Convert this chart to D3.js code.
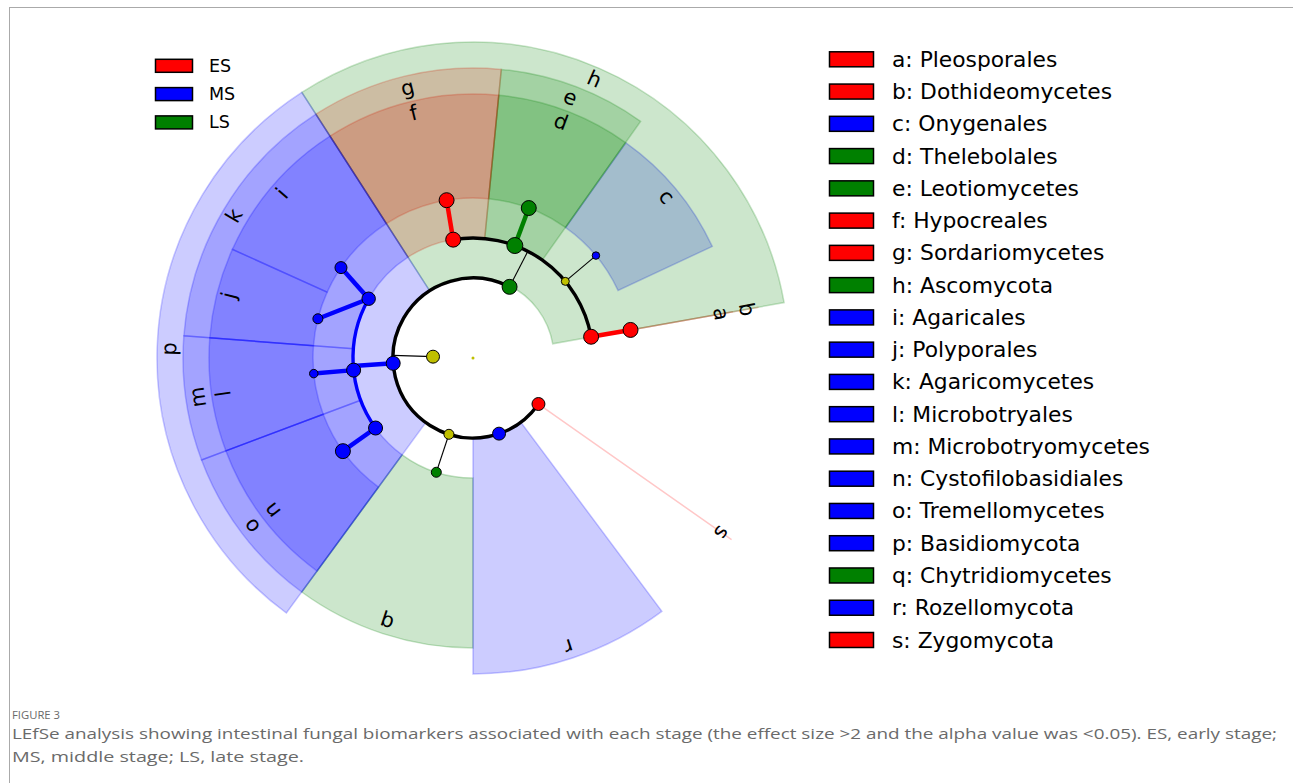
<!DOCTYPE html>
<html><head><meta charset="utf-8">
<script src="https://cdn.jsdelivr.net/npm/d3@7"></script>
<style>body{margin:0;background:#fff;} svg{display:block;}</style>
</head><body>
<svg id="chart" width="1293" height="783"></svg>
<script>
// ---------------- DATA ----------------
const stageNames = ["ES", "MS", "LS"];

// taxonomy nodes of the cladogram (level: 0 root, 1 kingdom, 2 phylum, 3 class, 4 order)
const nodeNames = ["root","Fungi","Ascomycota","Basidiomycota","Chytridiomycota","Rozellomycota","Zygomycota",
  "Sordariomycetes","Leotiomycetes","Eurotiomycetes","Dothideomycetes","Agaricomycetes","Microbotryomycetes",
  "Tremellomycetes","Chytridiomycetes","Hypocreales","Thelebolales","Onygenales","Pleosporales","Agaricales",
  "Polyporales","Microbotryales","Cystofilobasidiales"];
const nodeParents = [null,"root","Fungi","Fungi","Fungi","Fungi","Fungi",
  "Ascomycota","Ascomycota","Ascomycota","Ascomycota","Basidiomycota","Basidiomycota",
  "Basidiomycota","Chytridiomycota","Sordariomycetes","Leotiomycetes","Eurotiomycetes","Dothideomycetes","Agaricomycetes",
  "Agaricomycetes","Microbotryomycetes","Tremellomycetes"];
const nodeLevels = [0,1,2,2,2,2,2,3,3,3,3,3,3,3,3,4,4,4,4,4,4,4,4];
// angular position of each node (degrees, counter-clockwise from 3 o'clock)
const nodeAngles = [0,178.1,62.8,183.8,252.5,289,324.9,99.5,69.6,39.7,10.2,150.4,185.8,215.7,252.2,
  99.5,69.6,39.8,10.1,145.6,165.8,185.6,215.6];
// relative abundance (drives node circle size)
const nodeAbundance = [2.3,42,56,49,25,42,42,56,64,16,56,45,49,49,25,56,56,14,56,36,25,18,56];
const nodeStages = [null,null,"LS","MS",null,"MS","ES","ES","LS",null,"ES","MS","MS","MS","LS",
  "ES","LS","MS","ES","MS","MS","MS","MS"];

// biomarkers (letters, taxa, angular span of their clade in degrees)
const markerLetters = ["a","b","c","d","e","f","g","h","i","j","k","l","m","n","o","p","q","r","s"];
const markerTaxa = ["Pleosporales","Dothideomycetes","Onygenales","Thelebolales","Leotiomycetes","Hypocreales",
  "Sordariomycetes","Ascomycota","Agaricales","Polyporales","Agaricomycetes","Microbotryales","Microbotryomycetes",
  "Cystofilobasidiales","Tremellomycetes","Basidiomycota","Chytridiomycetes","Rozellomycota","Zygomycota"];
const markerSpanStart = [10.1,10.1,25,54.7,54.7,84.4,84.4,10.1,122.8,155.7,122.8,175.6,175.6,200.6,200.6,122.8,233.8,270,324.9];
const markerSpanEnd   = [10.1,10.1,54.6,84.4,84.4,122.8,122.8,122.8,155.7,175.6,175.6,200.6,200.6,233.8,233.8,233.8,270,306.7,324.9];

const captionTitle = "FIGURE 3";
const captionLines = [
  "LEfSe analysis showing intestinal fungal biomarkers associated with each stage (the effect size >2 and the alpha value was <0.05). ES, early stage;",
  "MS, middle stage; LS, late stage."
];

// ---------------- BUILD ----------------
const nodes = nodeNames.map((n, i) => ({
  name: n, parent: nodeParents[i], level: nodeLevels[i], angle: nodeAngles[i],
  abundance: nodeAbundance[i], stage: nodeStages[i]
}));
const byName = new Map(nodes.map(d => [d.name, d]));
const markers = markerLetters.map((l, i) => {
  const nd = byName.get(markerTaxa[i]);
  return { letter: l, taxon: markerTaxa[i], start: markerSpanStart[i], end: markerSpanEnd[i], level: nd.level, stage: nd.stage };
});

const svg = d3.select("#chart");
const FONT = "DejaVu Sans, Liberation Sans, sans-serif";

const color = d3.scaleOrdinal().domain(stageNames).range(["#ff0000", "#0000ff", "#008000"]);
const nsColor = "#bfbf00";
const ang = d3.scaleLinear().domain([0, 360]).range([Math.PI / 2, Math.PI / 2 - 2 * Math.PI]);
const rNode = d3.scaleLinear().domain([0, 4]).range([0, 160]);
const rOuter = d3.scaleLinear().domain([2, 4]).range([316, 264]);
const rLabel = d3.scaleLinear().domain([2, 4]).range([304, 252]);
const rSize = d3.scaleSqrt().domain([0, 100]).range([0, 10]);

// frame
svg.append("line").attr("x1", 9).attr("x2", 1293).attr("y1", 7.5).attr("y2", 7.5).attr("stroke", "#aaa").attr("stroke-width", 1);
svg.append("line").attr("x1", 9.5).attr("x2", 9.5).attr("y1", 7).attr("y2", 783).attr("stroke", "#aaa").attr("stroke-width", 1);

const g = svg.append("g").attr("transform", "translate(473,358)");

// wedges (deepest first)
const wedgeArc = d3.arc()
  .innerRadius(d => rNode(d.level) + (d.level === 2 ? 1 : 0))
  .outerRadius(d => rOuter(d.level))
  .startAngle(d => Math.min(ang(d.start), ang(d.end)))
  .endAngle(d => Math.max(ang(d.start), ang(d.end)));
const wedgeData = markers.slice().sort((a, b) => b.level - a.level);
g.append("g").selectAll("path").data(wedgeData).join("path")
  .attr("d", wedgeArc)
  .attr("fill", d => color(d.stage)).attr("fill-opacity", 0.2)
  .attr("stroke", d => color(d.stage)).attr("stroke-opacity", 0.22).attr("stroke-width", 1.5);

// edges
const edgeG = g.append("g").attr("fill", "none");
const pt = (a, r) => d3.pointRadial(ang(a), r);
nodes.forEach(p => {
  if (p.level === 0) return;
  const kids = nodes.filter(c => c.parent === p.name);
  if (!kids.length) return;
  const same = p.stage && kids.every(k => k.stage === p.stage);
  if (kids.length > 1 && p.level <= 2) {
    const a = pt(p.angle, rNode(p.level)), b = pt(p.angle, rNode(p.level + 1));
    edgeG.append("line").attr("x1", a[0]).attr("y1", a[1]).attr("x2", b[0]).attr("y2", b[1])
      .attr("stroke", same ? color(p.stage) : "#000").attr("stroke-width", same ? 4.5 : 1.1);
    const angs = kids.map(k => k.angle).concat([p.angle]);
    const lo = d3.min(angs), hi = d3.max(angs);
    const R = rNode(p.level + 1);
    const arc = d3.arc().innerRadius(R).outerRadius(R)
      .startAngle(Math.min(ang(lo), ang(hi))).endAngle(Math.max(ang(lo), ang(hi)));
    edgeG.append("path").attr("d", arc())
      .attr("stroke", same ? color(p.stage) : "#000").attr("stroke-width", 3.4);
  } else {
    kids.forEach(k => {
      const a = pt(p.angle, rNode(p.level)), b = pt(k.angle, rNode(k.level));
      const s = p.stage && p.stage === k.stage;
      edgeG.append("line").attr("x1", a[0]).attr("y1", a[1]).attr("x2", b[0]).attr("y2", b[1])
        .attr("stroke", s ? color(p.stage) : "#000").attr("stroke-width", s ? 4.5 : 1.1);
    });
  }
});

// nodes
g.append("g").selectAll("circle").data(nodes).join("circle")
  .attr("cx", d => pt(d.angle, rNode(d.level))[0])
  .attr("cy", d => pt(d.angle, rNode(d.level))[1])
  .attr("r", d => rSize(d.abundance))
  .attr("fill", d => d.stage ? color(d.stage) : nsColor)
  .attr("stroke", d => d.level === 0 ? "none" : "#000")
  .attr("stroke-width", 1);

// clade labels
g.append("g").selectAll("text").data(markers).join("text")
  .attr("transform", d => {
    const mid = (d.start + d.end) / 2;
    const p = pt(mid, rLabel(d.level));
    return `translate(${p[0]},${p[1]}) rotate(${90 - mid})`;
  })
  .attr("text-anchor", "middle").attr("dominant-baseline", "central")
  .attr("font-family", FONT).attr("font-size", 21).attr("fill", "#000")
  .text(d => d.letter);

// stage legend (top-left)
const yStage = d3.scalePoint().domain(stageNames).range([65.8, 122.4]);
const sl = svg.append("g");
sl.selectAll("rect").data(stageNames).join("rect")
  .attr("x", 155.5).attr("y", d => yStage(d) - 6.5).attr("width", 37).attr("height", 13)
  .attr("fill", d => color(d)).attr("stroke", "#000").attr("stroke-width", 1.5);
sl.selectAll("text").data(stageNames).join("text")
  .attr("x", 209).attr("y", d => yStage(d)).attr("dominant-baseline", "central")
  .attr("font-family", FONT).attr("font-size", 17.5).attr("fill", "#000").text(d => d);

// biomarker legend (right)
const yMark = d3.scalePoint().domain(markerLetters).range([59.3, 640]);
const ml = svg.append("g");
ml.selectAll("rect").data(markers).join("rect")
  .attr("x", 829.5).attr("y", d => yMark(d.letter) - 7.5).attr("width", 44).attr("height", 15)
  .attr("fill", d => color(d.stage)).attr("stroke", "#000").attr("stroke-width", 1.5);
ml.selectAll("text").data(markers).join("text")
  .attr("x", 892).attr("y", d => yMark(d.letter)).attr("dominant-baseline", "central")
  .attr("font-family", FONT).attr("font-size", 21.8).attr("fill", "#000")
  .text(d => `${d.letter}: ${d.taxon}`);

// caption
svg.append("text").attr("x", 12).attr("y", 718.5).attr("font-family", "Open Sans, sans-serif")
  .attr("font-size", 10.5).attr("fill", "#6a6a6a").attr("textLength", 48).attr("lengthAdjust", "spacingAndGlyphs")
  .text(captionTitle);
const capLens = [1265, 292];
captionLines.forEach((t, i) => {
  svg.append("text").attr("x", 12).attr("y", 738.5 + i * 23.5).attr("font-family", "Open Sans, sans-serif")
    .attr("font-size", 15).attr("fill", "#6a6a6a")
    .attr("textLength", capLens[i]).attr("lengthAdjust", "spacingAndGlyphs")
    .text(t);
});
</script>
</body></html>
